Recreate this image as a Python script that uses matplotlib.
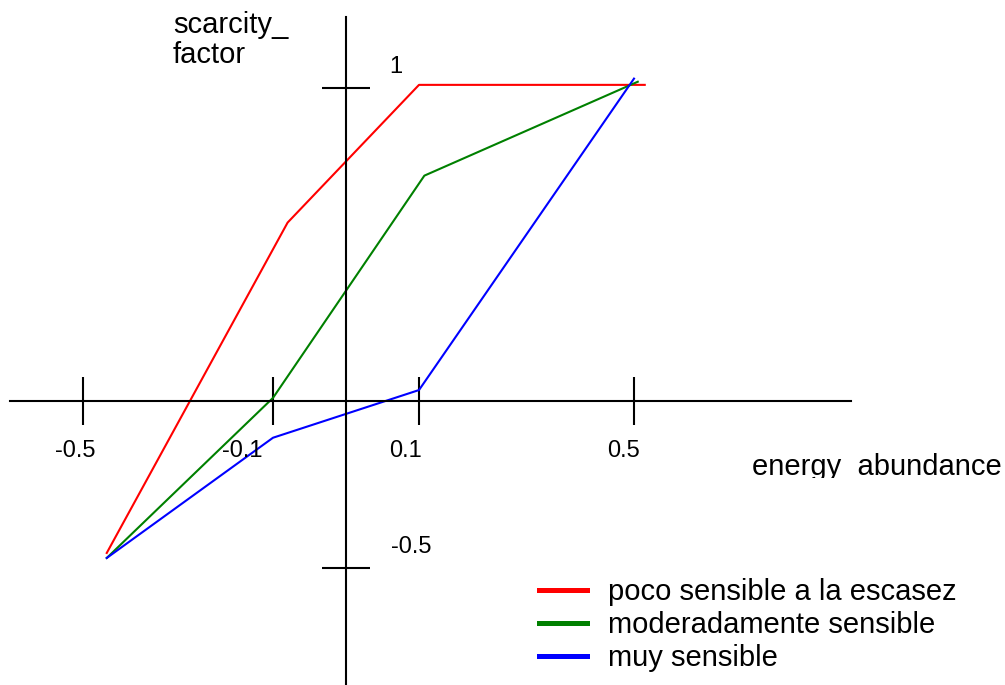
"""Scarcity factor vs energy abundance, schematic chart."""

import matplotlib
matplotlib.use("Agg")
import matplotlib.pyplot as plt
import numpy as np
from matplotlib.lines import Line2D
from matplotlib.transforms import Bbox

plt.rcParams["font.family"] = ["Liberation Sans", "DejaVu Sans"]

# data
series_names = ["poco sensible a la escasez", "moderadamente sensible", "muy sensible"]
series_colors = ["#ff0000", "#008000", "#0000ff"]
red_x = [-0.45, -0.08, 0.10, 0.52]
red_y = [-0.455, 0.57, 1.01, 1.01]
green_x = [-0.45, -0.10, 0.11, 0.507]
green_y = [-0.47, 0.01, 0.72, 1.02]
blue_x = [-0.45, -0.10, 0.10, 0.50]
blue_y = [-0.47, -0.11, 0.035, 1.03]

x_ticks = [-0.5, -0.1, 0.1, 0.5]
x_tick_labels = ["-0.5", "-0.1", "0.1", "0.5"]
y_ticks = [1, -0.5]
y_tick_labels = ["1", "-0.5"]

# the drawing is schematic: tick spacing is not uniform, so map values
# piecewise-linearly onto the canvas
X_VALS = [-10, -0.5, -0.1, 0.0, 0.1, 0.5, 10]
X_PIX = [-4429.5, 83, 273, 346, 419, 634, 5740.25]
Y_VALS = [-10, -0.5, 0.0, 1.0, 10]
Y_PIX = [-3056, 117, 284, 597, 3414]


def fx(v):
    return np.interp(v, X_VALS, X_PIX)


def ix(p):
    return np.interp(p, X_PIX, X_VALS)


def fy(v):
    return np.interp(v, Y_VALS, Y_PIX)


def iy(p):
    return np.interp(p, Y_PIX, Y_VALS)


W, H = 1005, 685
fig = plt.figure(figsize=(W / 100, H / 100), dpi=100)
ax = fig.add_axes([0, 0, 1, 1])
ax.set_xscale("function", functions=(fx, ix))
ax.set_yscale("function", functions=(fy, iy))
ax.set_xlim(ix(0), ix(W))
ax.set_ylim(iy(0), iy(H))
ax.patch.set_visible(False)

# axes through the origin
for side in ["top", "right"]:
    ax.spines[side].set_visible(False)
ax.spines["left"].set_position(("data", 0))
ax.spines["bottom"].set_position(("data", 0))
ax.spines["left"].set_bounds(iy(0), iy(H - 17))
ax.spines["bottom"].set_bounds(ix(10), ix(851))
ax.spines["left"].set_linewidth(1.5)
ax.spines["bottom"].set_linewidth(1.5)

ax.set_xticks(x_ticks)
ax.set_yticks(y_ticks)
ax.xaxis.set_minor_locator(matplotlib.ticker.NullLocator())
ax.yaxis.set_minor_locator(matplotlib.ticker.NullLocator())
ax.tick_params(axis="x", direction="inout", length=34.5, width=1.5,
               labelbottom=False)
ax.tick_params(axis="y", direction="inout", length=35, width=1.5,
               labelleft=False)

x_label_dx = [-8, -31, -13, -11]
for val, lab, dx in zip(x_ticks, x_tick_labels, x_label_dx):
    ax.annotate(lab, xy=(val, 0), xytext=(dx, -56), textcoords="offset pixels",
                ha="center", va="baseline", fontsize=17)
y_label_dx = [50, 65]
for val, lab, dx in zip(y_ticks, y_tick_labels, y_label_dx):
    ax.annotate(lab, xy=(0, val), xytext=(dx, 15), textcoords="offset pixels",
                ha="center", va="baseline", fontsize=17)

# curves
ax.plot(red_x, red_y, color=series_colors[0], lw=1.5)
ax.plot(green_x, green_y, color=series_colors[1], lw=1.5)
ax.plot(blue_x, blue_y, color=series_colors[2], lw=1.5)

# axis titles
fig.text(173 / W, 1 - 63 / H, "scarcity_\nfactor", fontsize=21,
         ha="left", va="baseline", linespacing=1.1)
t = fig.text(752 / W, 1 - 475 / H, "energy  abundance", fontsize=21,
             ha="left", va="baseline", clip_on=True)
t.set_clip_box(Bbox.from_extents(0, H - 478, W, H))

handles = [Line2D([], [], color=c, lw=3.6) for c in series_colors]
ax.legend(handles, series_names, loc="upper left", frameon=False,
          bbox_to_anchor=(539 / W, 1 - 578 / H), bbox_transform=fig.transFigure,
          fontsize=21, handlelength=1.65, handletextpad=0.72, labelspacing=0.18,
          borderpad=0, borderaxespad=0)

fig.savefig("out.png", dpi=100)
plt.close(fig)
